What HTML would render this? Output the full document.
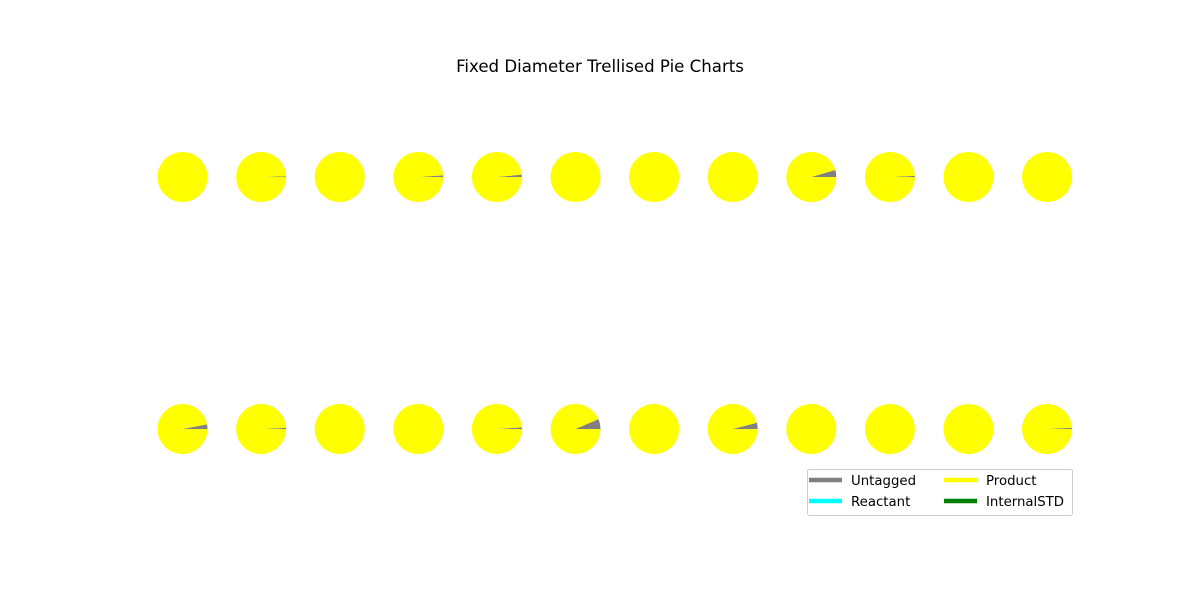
<!DOCTYPE html>
<html><head><meta charset="utf-8"><style>
body{margin:0;background:#fff}
svg{display:block;font-family:"DejaVu Sans","Liberation Sans",sans-serif}
</style></head><body>
<svg id="chart" width="1200" height="600" viewBox="0 0 1200 600">
<rect width="1200" height="600" fill="#fff"/>
<text x="600" y="72" text-anchor="middle" font-size="16.6" fill="#000">Fixed Diameter Trellised Pie Charts</text>
<g id="pies"></g>
<g>
<rect x="807.5" y="469.5" width="265" height="46" rx="2" fill="#fff" stroke="#ccc"/>
<g><line x1="809" y1="480" x2="842" y2="480" stroke="#808080" stroke-width="4.5"/><text x="851" y="485" font-size="13.3">Untagged</text></g>
<g><line x1="809" y1="501" x2="842" y2="501" stroke="#00ffff" stroke-width="4.5"/><text x="851" y="506" font-size="13.3">Reactant</text></g>
<g><line x1="944" y1="480" x2="977" y2="480" stroke="#ffff00" stroke-width="4.5"/><text x="986" y="485" font-size="13.3">Product</text></g>
<g><line x1="944" y1="501" x2="977" y2="501" stroke="#008000" stroke-width="4.5"/><text x="986" y="506" font-size="13.3">InternalSTD</text></g>
</g>
</svg>
<script>
const seriesNames = ["Untagged","Reactant","Product","InternalSTD"];
const seriesColors = ["#808080","#00ffff","#ffff00","#008000"];
const untagged = [0,0.005,0,0.01,0.015,0,0,0,0.045,0.007,0,0, 0.03,0.007,0,0,0.01,0.065,0,0.04,0,0,0,0.008];
const reactant = [0,0,0,0,0,0,0,0,0,0,0,0, 0,0,0,0,0,0,0,0,0,0,0,0];
const internalStd = [0,0,0,0,0,0,0,0,0,0,0,0, 0,0,0,0,0,0,0,0,0,0,0,0];
const product = untagged.map((u,i)=>1-u-reactant[i]-internalStd[i]);

const cols=12, x0=182.5, dx=78.6, rowY=[177,429], R=25;
const g=document.getElementById('pies');
const NS="http://www.w3.org/2000/svg";
for(let i=0;i<untagged.length;i++){
  const cx=x0+(i%cols)*dx, cy=rowY[Math.floor(i/cols)];
  const vals=[untagged[i],reactant[i],product[i],internalStd[i]];
  const pg=document.createElementNS(NS,'g');
  
  
  g.appendChild(pg);
  let a=0;
  vals.forEach((v,k)=>{
    if(v<=0) return;
    let el;
    if(v>=0.9999){
      el=document.createElementNS(NS,'circle');
      el.setAttribute('cx',cx);el.setAttribute('cy',cy);el.setAttribute('r',R);
    } else {
      const a1=a, a2=a+v*2*Math.PI;
      const x1=cx+R*Math.cos(a1), y1=cy-R*Math.sin(a1);
      const x2=cx+R*Math.cos(a2), y2=cy-R*Math.sin(a2);
      el=document.createElementNS(NS,'path');
      el.setAttribute('d',`M${cx},${cy}L${x1},${y1}A${R},${R} 0 ${v>0.5?1:0} 0 ${x2},${y2}Z`);
    }
    el.setAttribute('fill',seriesColors[k]);
    
    
    pg.appendChild(el);
    a+=v*2*Math.PI;
  });
}
</script>
</body></html>
